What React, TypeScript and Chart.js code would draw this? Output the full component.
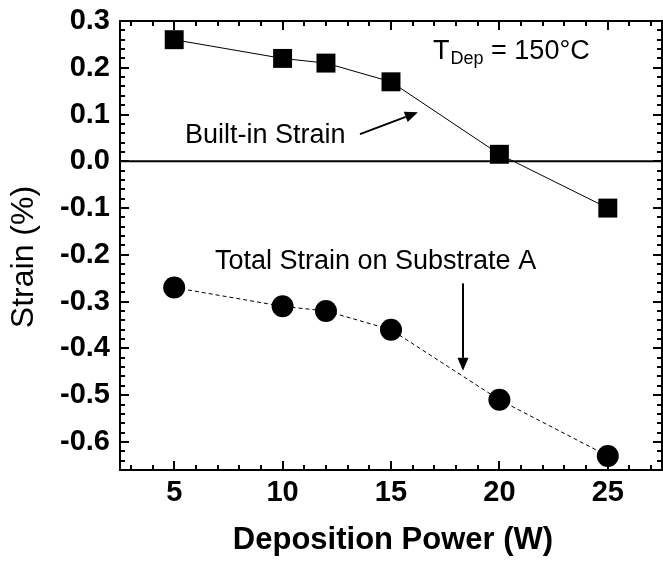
import { useEffect, useRef } from 'react';
import { Chart, registerables } from 'chart.js';

Chart.register(...registerables);

// Deposition power (W) and measured strain (%)
const powers = [5, 10, 12, 15, 20, 25];
const builtInStrain = [0.26, 0.22, 0.21, 0.17, 0.015, -0.1];
const totalStrain = [-0.27, -0.31, -0.32, -0.36, -0.51, -0.63];

const xTickValues = [5, 10, 15, 20, 25];
const yTickValues = [-0.6, -0.5, -0.4, -0.3, -0.2, -0.1, 0, 0.1, 0.2, 0.3];

const X_MIN = 2.5;
const X_MAX = 27.5;
const Y_MIN = -0.66;
const Y_MAX = 0.3;

const FONT = '"Liberation Sans", Arial, Helvetica, sans-serif';

function arrow(ctx: CanvasRenderingContext2D, x0: number, y0: number, x1: number, y1: number) {
  const ang = Math.atan2(y1 - y0, x1 - x0);
  const headLen = 13;
  const headW = 5.5;
  const bx = x1 - headLen * Math.cos(ang);
  const by = y1 - headLen * Math.sin(ang);
  ctx.beginPath();
  ctx.lineWidth = 2;
  ctx.moveTo(x0, y0);
  ctx.lineTo(bx, by);
  ctx.stroke();
  ctx.beginPath();
  ctx.moveTo(x1, y1);
  ctx.lineTo(bx + headW * Math.sin(ang), by - headW * Math.cos(ang));
  ctx.lineTo(bx - headW * Math.sin(ang), by + headW * Math.cos(ang));
  ctx.closePath();
  ctx.fill();
}

const framePlugin = {
  id: 'frameAndNotes',
  beforeDatasetsDraw(chart: any) {
    const { ctx, chartArea: a, scales } = chart;
    const y0 = scales.y.getPixelForValue(0);
    ctx.save();
    ctx.strokeStyle = '#000';
    ctx.lineWidth = 2;
    ctx.beginPath();
    ctx.moveTo(a.left, y0);
    ctx.lineTo(a.right, y0);
    ctx.stroke();
    ctx.restore();
  },
  afterDatasetsDraw(chart: any) {
    const { ctx, chartArea: a, scales } = chart;
    const xs = scales.x;
    const ys = scales.y;
    ctx.save();
    ctx.strokeStyle = '#000';
    ctx.fillStyle = '#000';

    // frame
    ctx.lineWidth = 2;
    ctx.strokeRect(a.left, a.top, a.right - a.left, a.bottom - a.top);

    // inward ticks on all four sides
    ctx.lineWidth = 2;
    for (let i = 3; i <= 27; i++) {
      const px = Math.round(xs.getPixelForValue(i));
      const len = i % 5 === 0 ? 9 : 5;
      ctx.beginPath();
      ctx.moveTo(px, a.bottom);
      ctx.lineTo(px, a.bottom - len);
      ctx.moveTo(px, a.top);
      ctx.lineTo(px, a.top + len);
      ctx.stroke();
    }
    for (let k = -33; k <= 15; k++) {
      const v = k * 0.02;
      const py = Math.round(ys.getPixelForValue(v));
      const len = k % 5 === 0 ? 9 : 5;
      ctx.beginPath();
      ctx.moveTo(a.left, py);
      ctx.lineTo(a.left + len, py);
      ctx.moveTo(a.right, py);
      ctx.lineTo(a.right - len, py);
      ctx.stroke();
    }

    // axis titles
    ctx.textAlign = 'center';
    ctx.textBaseline = 'middle';
    ctx.font = `bold 31px ${FONT}`;
    ctx.fillText('Deposition Power (W)', (a.left + a.right) / 2 + 2, 540);
    ctx.save();
    ctx.translate(24, 257);
    ctx.rotate(-Math.PI / 2);
    ctx.font = `32px ${FONT}`;
    ctx.fillText('Strain (%)', 0, 0);
    ctx.restore();

    // annotations
    ctx.textAlign = 'left';
    ctx.textBaseline = 'alphabetic';
    ctx.font = `27px ${FONT}`;
    ctx.fillText('Built-in Strain', xs.getPixelForValue(5.5), ys.getPixelForValue(0.0385));
    ctx.fillText('Total Strain on Substrate A', xs.getPixelForValue(6.88), ys.getPixelForValue(-0.231));

    const tx = xs.getPixelForValue(16.94);
    const ty = ys.getPixelForValue(0.218);
    ctx.fillText('T', tx, ty);
    const tw = ctx.measureText('T').width;
    ctx.font = `18px ${FONT}`;
    ctx.fillText('Dep', tx + tw + 1, ty + 5);
    const dw = ctx.measureText('Dep').width;
    ctx.font = `27px ${FONT}`;
    ctx.fillText(' = 150\u00B0C', tx + tw + 1 + dw, ty);

    arrow(
      ctx,
      xs.getPixelForValue(13.57), ys.getPixelForValue(0.058),
      xs.getPixelForValue(16.24), ys.getPixelForValue(0.105)
    );
    arrow(
      ctx,
      xs.getPixelForValue(18.32), ys.getPixelForValue(-0.261),
      xs.getPixelForValue(18.32), ys.getPixelForValue(-0.448)
    );
    ctx.restore();
  },
};

export default function App() {
  const canvasRef = useRef<HTMLCanvasElement | null>(null);

  useEffect(() => {
    document.body.style.margin = '0';
    const canvas = canvasRef.current;
    if (!canvas) return;
    const chart = new Chart(canvas, {
      type: 'scatter',
      data: {
        datasets: [
          {
            label: 'Built-in Strain',
            data: powers.map((p, i) => ({ x: p, y: builtInStrain[i] })),
            showLine: true,
            borderColor: '#000',
            backgroundColor: '#000',
            borderWidth: 1,
            pointStyle: 'rect',
            pointRadius: 13.4,
            pointBorderWidth: 0,
          },
          {
            label: 'Total Strain on Substrate A',
            data: powers.map((p, i) => ({ x: p, y: totalStrain[i] })),
            showLine: true,
            borderColor: '#000',
            backgroundColor: '#000',
            borderWidth: 1,
            borderDash: [4, 3],
            pointStyle: 'circle',
            pointRadius: 11,
            pointBorderWidth: 0,
          },
        ],
      },
      options: {
        responsive: false,
        animation: false,
        devicePixelRatio: 1,
        layout: { autoPadding: false, padding: { left: 0, top: 21, right: 1, bottom: 0 } },
        plugins: {
          legend: { display: false },
          tooltip: { enabled: false },
        },
        scales: {
          x: {
            type: 'linear',
            min: X_MIN,
            max: X_MAX,
            afterBuildTicks: (s: any) => {
              s.ticks = xTickValues.map((v) => ({ value: v }));
            },
            afterFit: (s: any) => {
              s.height = 91;
              s.paddingLeft = 0;
              s.paddingRight = 0;
            },
            grid: { display: false, drawTicks: false },
            border: { display: false },
            ticks: {
              padding: 6,
              color: '#000',
              font: { family: FONT, size: 29, weight: 'bold' },
              callback: (v: any) => String(v),
            },
          },
          y: {
            type: 'linear',
            min: Y_MIN,
            max: Y_MAX,
            afterBuildTicks: (s: any) => {
              s.ticks = yTickValues.map((v) => ({ value: v }));
            },
            afterFit: (s: any) => {
              s.width = 120;
              s.paddingTop = 0;
              s.paddingBottom = 0;
            },
            grid: { display: false, drawTicks: false },
            border: { display: false },
            ticks: {
              padding: 10,
              color: '#000',
              font: { family: FONT, size: 29, weight: 'bold' },
              callback: (v: any) => Number(v).toFixed(1),
            },
          },
        },
      },
      plugins: [framePlugin],
    });
    return () => chart.destroy();
  }, []);

  return (
    <div style={{ position: 'absolute', left: 0, top: 0, width: 663, height: 561, background: '#fff' }}>
      <canvas ref={canvasRef} width={663} height={561} />
    </div>
  );
}
